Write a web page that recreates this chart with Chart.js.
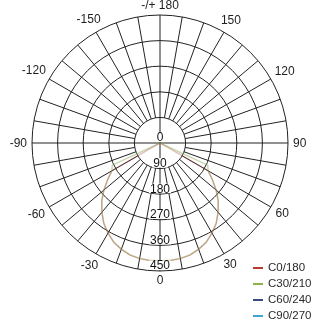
<!DOCTYPE html>
<html>
<head>
<meta charset="utf-8">
<script src="https://cdn.jsdelivr.net/npm/chart.js@4.4.0/dist/chart.umd.min.js"></script>
<style>
  body { margin: 0; background: #fff; }
  #wrap { position: relative; width: 320px; height: 320px; }
  #legend { position: absolute; left: 253px; top: 259px; font: 11.5px "Liberation Sans", Arial, sans-serif; color: #2a2a2a; }
  #legend div { height: 16px; line-height: 16px; white-space: nowrap; }
  #legend span { display: inline-block; width: 10px; height: 2px; vertical-align: middle; margin-right: 5px; }
</style>
</head>
<body>
<div id="wrap">
  <canvas id="chart" width="320" height="320"></canvas>
  <div id="legend"></div>
</div>
<script>
// gamma angle from nadir, 5 degree steps (values in cd/klm)
const gammaSteps = [0, 5, 10, 15, 20, 25, 30, 35, 40, 45, 50, 55, 60, 65, 70, 75, 80, 85, 90];

const c0 =  [415, 415, 413, 408, 398, 385, 366, 345, 318, 290, 258, 225, 195, 0, 0, 0, 0, 0, 0];
const c30 = [415, 414, 412, 407, 397, 384, 365, 344, 317, 289, 257, 224, 196, 185, 0, 0, 0, 0, 0];
const c60 = [414, 414, 412, 407, 398, 385, 366, 345, 318, 290, 258, 226, 196, 0, 0, 0, 0, 0, 0];
const c90 = [415, 415, 413, 408, 398, 385, 366, 345, 318, 290, 258, 225, 195, 186, 0, 0, 0, 0, 0];

const seriesNames = ['C0/180', 'C30/210', 'C60/240', 'C90/270'];
const seriesColors = ['#b83a32', '#8fb24f', '#3b4b7f', '#3ea6d6'];
const lineColors = ['rgba(184,58,50,0.3)', 'rgba(150,178,80,0.45)', 'rgba(59,75,127,0.08)', 'rgba(62,166,214,0.08)'];

const ringTicks = [0, 90, 180, 270, 360, 450];
const angleTicks = [180, 150, 120, 90, 60, 30, 0, -30, -60, -90, -120, -150];

const gridColor = '#222';

// one category per 5 degrees, clockwise from the top (180)
const directions = [];
for (let i = 0; i < 72; i++) directions.push(180 - 5 * i);

function fullCurve(profile) {
    return directions.map(a => {
        const g = Math.abs(a);
        const k = gammaSteps.indexOf(g);
        return k >= 0 ? profile[k] : 0;
    });
}

const profiles = [c0, c30, c60, c90];

const polarFrame = {
    id: 'polarFrame',
    beforeDatasetsDraw(chart) {
        const s = chart.scales.r;
        const ctx = chart.ctx;
        const inner = s.getDistanceFromCenterForValue(ringTicks[1]);
        ctx.save();
        ctx.strokeStyle = gridColor;
        ctx.lineWidth = 1;
        ctx.beginPath();
        for (let i = 0; i < directions.length; i += 2) {
            const from = (i % 18 === 0) ? 0 : inner;
            const a = s.getPointPosition(i, from);
            const b = s.getPointPosition(i, s.drawingArea);
            ctx.moveTo(a.x, a.y);
            ctx.lineTo(b.x, b.y);
        }
        ctx.stroke();
        ctx.restore();
    },
    afterDatasetsDraw(chart) {
        const s = chart.scales.r;
        const ctx = chart.ctx;
        ctx.save();
        // ring values down the 0 direction
        ctx.font = '12px "Liberation Sans", Arial, sans-serif';
        ctx.textAlign = 'center';
        ctx.textBaseline = 'middle';
        const down = directions.indexOf(0);
        ringTicks.forEach(v => {
            const p = s.getPointPosition(down, s.getDistanceFromCenterForValue(v));
            const txt = String(v);
            const w = ctx.measureText(txt).width;
            const y = p.y - 5.5;
            ctx.fillStyle = '#fff';
            ctx.fillRect(p.x - w / 2 - 1, y - 5, w + 2, 9.5);
            ctx.fillStyle = '#111';
            ctx.fillText(txt, p.x, y + 0.5);
        });
        // angle labels round the outside
        ctx.fillStyle = '#1e1e1e';
        angleTicks.forEach(a => {
            const i = directions.indexOf(a);
            const txt = a === 180 ? '-/+ 180' : String(a);
            const w = ctx.measureText(txt).width;
            const th = s.getIndexAngle(i);
            const d = s.drawingArea + 5 + (w / 2) * Math.abs(Math.sin(th)) + 4.5 * Math.abs(Math.cos(th));
            const p = s.getPointPosition(i, d);
            ctx.fillText(txt, p.x, p.y + 0.5);
        });
        ctx.restore();
    }
};

const config = {
    type: 'radar',
    data: {
        labels: directions,
        datasets: profiles.map((p, k) => ({
            label: seriesNames[k],
            data: fullCurve(p),
            borderColor: lineColors[k],
            backgroundColor: 'rgba(0,0,0,0)',
            borderWidth: 1.4,
            pointRadius: 0,
            tension: 0,
            fill: false
        }))
    },
    options: {
        responsive: false,
        animation: false,
        layout: { padding: { left: 32, right: 32, top: 15, bottom: 49 } },
        plugins: { legend: { display: false }, tooltip: { enabled: false } },
        scales: {
            r: {
                min: 0,
                max: 450,
                ticks: { display: false, stepSize: 90 },
                grid: { circular: true, color: gridColor, lineWidth: 1 },
                angleLines: { display: false },
                pointLabels: { display: false }
            }
        }
    },
    plugins: [polarFrame]
};

new Chart(document.getElementById('chart'), config);

const legend = document.getElementById('legend');
seriesNames.forEach((n, k) => {
    const row = document.createElement('div');
    row.innerHTML = '<span style="background:' + seriesColors[k] + '"></span>' + n;
    legend.appendChild(row);
});
</script>
</body>
</html>
